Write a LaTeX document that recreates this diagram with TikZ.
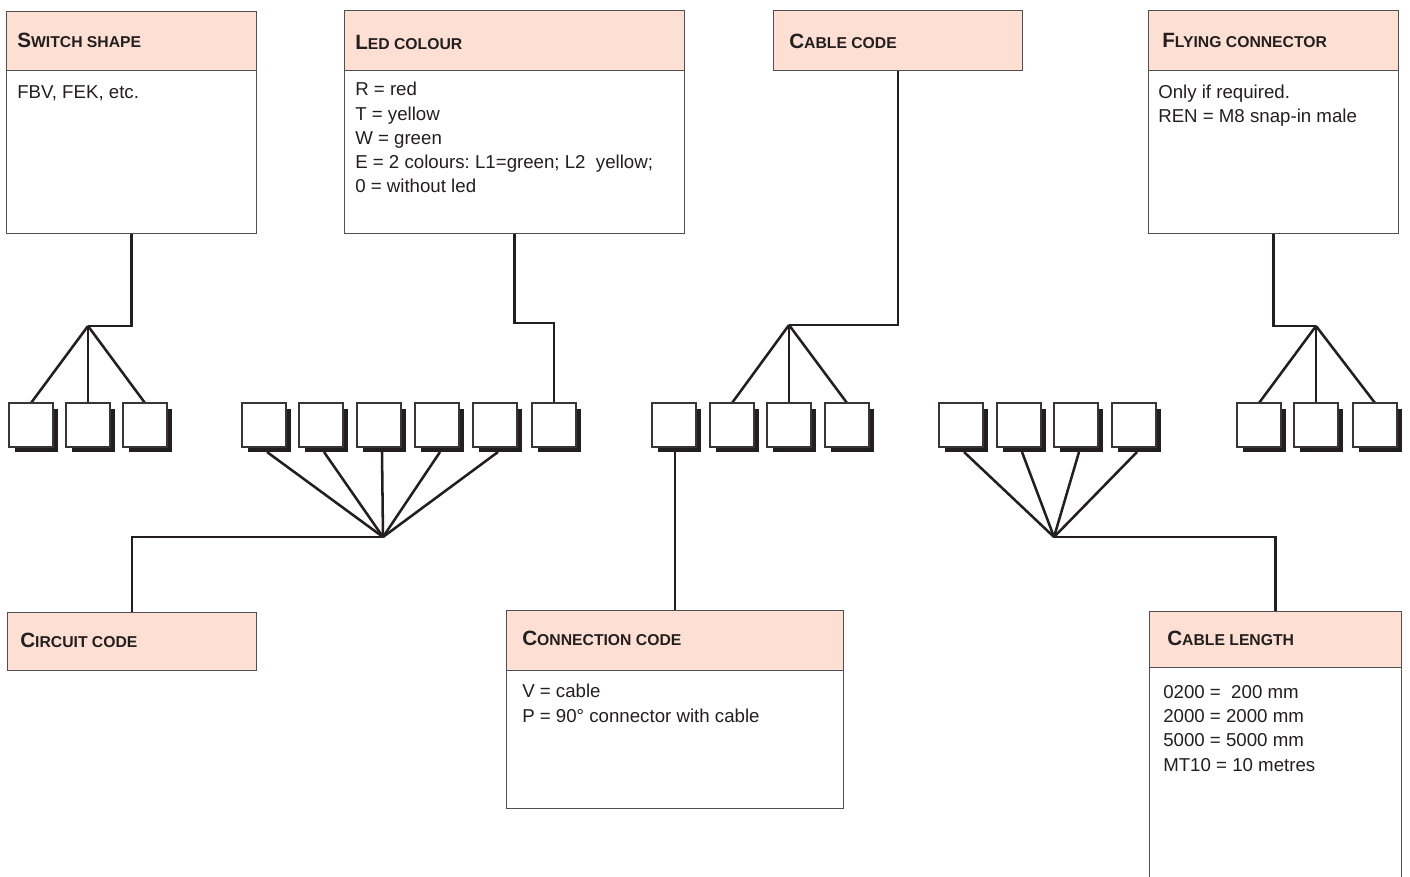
\documentclass[tikz,border=0pt]{standalone}
\usepackage{fontspec}
\setmainfont{Liberation Sans}
\usetikzlibrary{shadows,calc}
\definecolor{peach}{HTML}{FDE0D3}
\definecolor{boxgray}{HTML}{505050}
\definecolor{ink}{HTML}{231F20}
\frenchspacing
\newcommand{\hsc}[2]{{\bfseries\fontsize{15.5}{18}\selectfont #1\fontsize{11.8}{14}\selectfont #2}}
\tikzset{
  hdrbox/.style={draw=boxgray, fill=peach, line width=1pt, anchor=north west, inner sep=0pt},
  bodybox/.style={draw=boxgray, fill=white, line width=1pt, anchor=north west, inner sep=0pt},
  hdrtxt/.style={anchor=base west, inner sep=0pt, text=ink},
  bodytxt/.style={anchor=base west, inner sep=0pt, text=ink, align=left, font=\fontsize{14}{18.2}\selectfont},
  sq/.style={draw=ink!90, fill=white, line width=1.5pt, minimum size=32.5pt, inner sep=0pt,
    general shadow={fill=ink, shadow xshift=4pt, shadow yshift=-4pt}},
  conn/.style={draw=ink, line width=1.9pt}
}
\begin{document}
\begin{tikzpicture}[x=0.75pt,y=-0.75pt]
\clip (0,0) rectangle (1410,877);
\fill[white] (0,0) rectangle (1410,877);

% ---- boxes ----
\node[bodybox, minimum width=187.5pt, minimum height=122.25pt] (swbody) at (6,70) {};
\node[hdrbox, minimum width=187.5pt, minimum height=44.25pt] (swhdr) at (6,11) {};
\node[bodybox, minimum width=255pt, minimum height=122.25pt] (ledbody) at (344,70) {};
\node[hdrbox, minimum width=255pt, minimum height=45pt] (ledhdr) at (344,10) {};
\node[hdrbox, minimum width=186.75pt, minimum height=45pt] (cchdr) at (773,10) {};
\node[bodybox, minimum width=187.5pt, minimum height=122.25pt] (flybody) at (1148,70) {};
\node[hdrbox, minimum width=187.5pt, minimum height=45pt] (flyhdr) at (1148,10) {};
\node[hdrbox, minimum width=186.75pt, minimum height=43.5pt] (cirhdr) at (7,612) {};
\node[bodybox, minimum width=252.75pt, minimum height=103.5pt] (conbody) at (506,670) {};
\node[hdrbox, minimum width=252.75pt, minimum height=45pt] (conhdr) at (506,610) {};
\node[bodybox, minimum width=189pt, minimum height=200pt] (lenbody) at (1149,667) {};
\node[hdrbox, minimum width=189pt, minimum height=42pt] (lenhdr) at (1149,611) {};

% ---- header texts ----
\node[hdrtxt] (swt) at (17,48) {\hsc{S}{WITCH SHAPE}};
\node[hdrtxt] (ledt) at (355,50) {\hsc{L}{ED COLOUR}};
\node[hdrtxt] (cct) at (789,49) {\hsc{C}{ABLE CODE}};
\node[hdrtxt] (flyt) at (1162,48) {\hsc{F}{LYING CONNECTOR}};
\node[hdrtxt] (cirt) at (20,647) {\hsc{C}{IRCUIT CODE}};
\node[hdrtxt] (cont) at (522,645) {\hsc{C}{ONNECTION CODE}};
\node[hdrtxt] (lent) at (1167,645) {\hsc{C}{ABLE LENGTH}};

% ---- body texts (anchor = baseline of last line) ----
\node[bodytxt] (swb) at (17,99) {FBV, FEK, etc.};
\node[bodytxt] (ledb) at (355,193) {R = red\\T = yellow\\W = green\\E = 2 colours: L1=green; L2\ \ yellow;\\0 = without led};
\node[bodytxt] (flyb) at (1158,123) {Only if required.\\REN = M8 snap-in male};
\node[bodytxt] (conb) at (522,722) {V = cable\\P = 90° connector with cable};
\node[bodytxt] (lenb) at (1163,771) {0200 =\ \ 200 mm\\2000 = 2000 mm\\5000 = 5000 mm\\MT10 = 10 metres};

% ---- junction coordinates ----
\coordinate (j1) at (88,326);
\coordinate (jl) at (554,323);
\coordinate (j3) at (789,325);
\coordinate (j5) at (1316,326);
\coordinate (j2) at (383,537);
\coordinate (j4) at (1054,537);

% ---- square centres ----
\foreach \n/\x in {11/31,12/88,13/145,
                   21/264,22/321,23/379,24/437,25/495,26/554,
                   31/674,32/732,33/789,34/847,
                   41/961,42/1019,43/1076,44/1134,
                   51/1259,52/1316,53/1375}
  \coordinate (c\n) at (\x,425);

% ---- connectors (drawn beneath squares) ----
\draw[conn] (swbody.south) |- (j1);
\foreach \n in {11,12,13} \draw[conn] (j1) -- ($(c\n)+(0,-22)$);
\draw[conn] (ledbody.south) |- (jl) -- ($(c26)+(0,-22)$);
\draw[conn] (cchdr.south) |- (j3);
\foreach \n in {32,33,34} \draw[conn] (j3) -- ($(c\n)+(0,-22)$);
\draw[conn] (flybody.south) |- (j5);
\foreach \n in {51,52,53} \draw[conn] (j5) -- ($(c\n)+(0,-22)$);
\foreach \n in {21,22,23,24,25} \draw[conn] (j2) -- ($(c\n)+(3,27)$);
\draw[conn] (j2) -| (cirhdr.north);
\draw[conn] (conhdr.north) -- (conhdr.north |- c31);
\foreach \n in {41,42,43,44} \draw[conn] (j4) -- ($(c\n)+(3,27)$);
\draw[conn] (j4) -| (lenhdr.north);

% ---- squares ----
\foreach \n in {11,12,13,21,22,23,24,25,26,31,32,33,34,41,42,43,44,51,52,53}
  \node[sq] (s\n) at (c\n) {};
\end{tikzpicture}
\end{document}
